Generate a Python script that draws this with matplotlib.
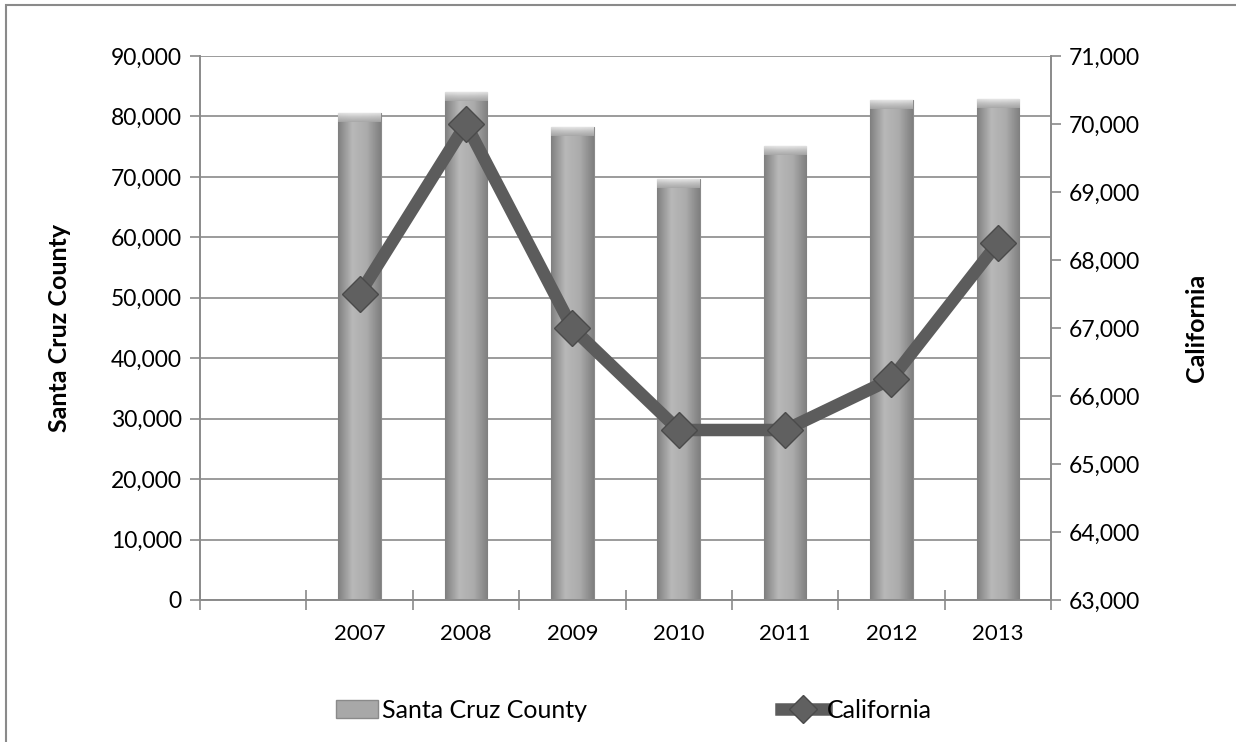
import numpy as np
import matplotlib
matplotlib.use("Agg")
import matplotlib.pyplot as plt
from matplotlib import ticker
from matplotlib.colors import LinearSegmentedColormap
from matplotlib.patches import Rectangle
from matplotlib.lines import Line2D

# data (first category slot is empty in the original chart)
categories = ["", "2007", "2008", "2009", "2010", "2011", "2012", "2013"]
santa_cruz = [np.nan, 80500, 84000, 78300, 69600, 75100, 82700, 82900]
california = [np.nan, 67500, 70000, 67000, 65500, 65500, 66250, 68250]

plt.rcParams["font.family"] = ["Lato", "DejaVu Sans"]
grid_c = "#8a8a8a"
line_c = "#5c5c5c"
fs = 16.5

fig = plt.figure(figsize=(12.36, 7.42), dpi=100)
ax = fig.add_axes([200/1236, 1 - 600/742, 851/1236, 544/742])
ax2 = ax.twinx()

x = np.arange(len(categories))
bars = ax.bar(x, santa_cruz, width=0.40, color="#a8a8a8", edgecolor="#8a8a8a",
              linewidth=0.8, zorder=2)

# horizontal shading on each bar plus a light bevel at the top
cmap = LinearSegmentedColormap.from_list("bar", ["#808080", "#b8b8b8", "#acacac", "#808080"])
cap = LinearSegmentedColormap.from_list("cap", ["#a8a8a8", "#c8c8c8", "#f4f4f4"])
grad = np.linspace(0, 1, 64).reshape(1, -1)
for b in bars:
    h = b.get_height()
    if np.isnan(h):
        continue
    x0 = b.get_x()
    im = ax.imshow(grad, extent=[x0, x0 + b.get_width(), 0, h], aspect="auto",
                   cmap=cmap, zorder=2.5)
    im.set_clip_path(b)
    im2 = ax.imshow(np.linspace(0, 1, 16).reshape(-1, 1), extent=[x0, x0 + b.get_width(), h - 1500, h],
                    aspect="auto", cmap=cap, zorder=2.6, origin="lower", alpha=0.9)
    im2.set_clip_path(b)

ax.set_xlim(-0.5, len(categories) - 0.5)
ax.set_ylim(0, 90000)
ax.set_yticks(np.arange(0, 90001, 10000))
ax.yaxis.set_major_formatter(ticker.FuncFormatter(lambda v, p: f"{int(v):,}"))
ax.yaxis.grid(True, color=grid_c, linewidth=1.2, zorder=1)
ax.set_axisbelow(True)

ax.set_xticks(x)
ax.set_xticklabels(categories, fontsize=16)
ax.xaxis.set_minor_locator(ticker.FixedLocator(np.arange(-0.5, len(categories), 1.0)))
ax.tick_params(axis="x", which="major", length=0, pad=17)
ax.tick_params(axis="x", which="minor", length=14, direction="inout", color=grid_c, width=1.2)
ax.tick_params(axis="y", length=7, color=grid_c, width=1.2, labelsize=fs, pad=6)

ax2.plot(x, california, color=line_c, linewidth=9, marker="D", markersize=18,
         markerfacecolor="#606060", markeredgecolor="#4a4a4a", markeredgewidth=1, zorder=3)
ax2.set_ylim(63000, 71000)
ax2.set_yticks(np.arange(63000, 71001, 1000))
ax2.yaxis.set_major_formatter(ticker.FuncFormatter(lambda v, p: f"{int(v):,}"))
ax2.tick_params(axis="y", length=7, color=grid_c, width=1.2, labelsize=fs, pad=6)

for a in (ax, ax2):
    a.spines["top"].set_visible(False)
    for s in ("left", "right", "bottom"):
        a.spines[s].set_color(grid_c)
        a.spines[s].set_linewidth(1.2)

ax.set_ylabel("Santa Cruz County", fontsize=18, fontweight="bold")
ax.yaxis.set_label_coords(-0.152, 0.5)
ax2.set_ylabel("California", fontsize=18, fontweight="bold")
ax2.yaxis.set_label_coords(1.157, 0.5)

# legend, one entry per box so each can sit where the original has it
bar_handle = Rectangle((0, 0), 1, 1, facecolor="#a8a8a8", edgecolor="#8a8a8a")
line_handle = Line2D([], [], color=line_c, linewidth=9, marker="D", markersize=14,
                     markerfacecolor="#606060", markeredgecolor="#4a4a4a")
fig.legend([bar_handle], ["Santa Cruz County"], loc="center left",
           bbox_to_anchor=(313/1236, 1 - 710/742), frameon=False, fontsize=18,
           handlelength=1.68, handletextpad=0.2)
fig.legend([line_handle], ["California"], loc="center left",
           bbox_to_anchor=(758/1236, 1 - 710/742), frameon=False, fontsize=18,
           handlelength=1.8, handletextpad=0.05)

# outer chart border
fig.add_artist(Rectangle((6/1236, -0.01), 1.02, 1 - 5/742 + 0.01, transform=fig.transFigure,
                         fill=False, edgecolor="#8a8a8a", linewidth=1.5))

fig.savefig("out.png", dpi=100)
